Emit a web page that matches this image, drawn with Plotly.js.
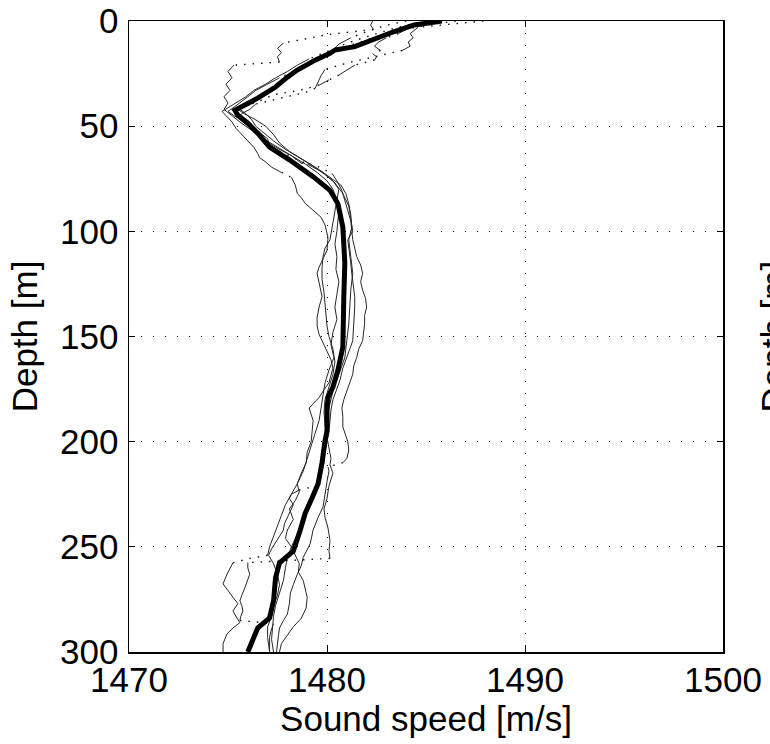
<!DOCTYPE html>
<html><head><meta charset="utf-8">
<script src="https://cdn.plot.ly/plotly-3.0.1.min.js"></script>
<style>html,body{margin:0;padding:0;background:#fff}</style>
</head><body>
<div id="chart" style="width:770px;height:744px"></div>
<script>
// ---- Data ----
const meanDepth = [0,0.8,1.9,5,9,12.2,13.8,15.4,18.6,23.3,26.7,31.4,36.7,40,42.4,44.8,48.6,53.3,60,66,74,80.5,86.8,98,109,115,131,147,155,166,174,179,185,195,199.5,210,220,226.7,234,242,252,257.6,264.8,275.7,283.8,288.6,296.2,300];
const meanSpeed = [1485.8,1485.0,1484.4,1483.4,1482.3,1481.4,1480.4,1480.15,1479.4,1478.5,1478.0,1477.4,1476.5,1475.85,1475.35,1475.5,1476.0,1476.5,1477.1,1478.1,1479.3,1480.15,1480.55,1480.8,1480.9,1480.9,1480.85,1480.85,1480.8,1480.55,1480.3,1480.05,1480.0,1480.0,1479.9,1479.75,1479.55,1479.25,1478.9,1478.65,1478.3,1477.6,1477.4,1477.3,1477.1,1476.5,1476.2,1476.0];

const cast1Depth = [0,2,4,6.5,10.5,13,15,17,19.5,21,24,27,30,33,36,39,42,45,48,52,56,60,64,68,72,76,80,85,90,95,100,106,112,118,124,130,136,142,148,154,160,166,172,178,184,190,196,202,208,214,220,225,230,235,240,245,250,254,255.5,257.6,260,263,267.6,271,274,277,280.5,283.8,286,288.6,291.4,296,300];
const cast1Speed = [1482.3,1482.2,1482.35,1480.0,1477.8,1477.5,1477.7,1477.5,1477.6,1475.3,1475.0,1475.2,1474.9,1475.1,1474.8,1475.0,1474.8,1475.2,1475.6,1476.2,1476.8,1477.5,1478.2,1478.9,1479.5,1480.0,1480.3,1480.5,1480.6,1480.55,1480.5,1480.4,1480.5,1480.45,1480.6,1480.5,1480.4,1480.5,1480.3,1480.2,1480.35,1480.1,1479.9,1479.8,1479.7,1479.6,1479.4,1479.2,1479.0,1478.8,1478.5,1478.2,1477.9,1477.7,1477.5,1477.3,1477.1,1477.0,1476.1,1475.25,1475.1,1474.95,1474.75,1475.0,1475.25,1475.5,1475.25,1475.45,1475.6,1475.25,1474.95,1474.75,1474.75];

const cast2Depth = [0,1.5,3,6,8,10,12,14,17,20,23,26,29,32,34,37,39.5,42,44,46,49,52,56,60,64,67.6,68.6,72.4,76,80.5,85,90,95,99.5,104,112,116,120,124,128,132,136,140,144,148,152,156,160,164,168,172,176,180,184,188,193,197,200,204,208,210,212,214,219,225,231,236,242,248.6,255,259,263,268,272,277,282,285,288.6,292,296,300];
const cast2Speed = [1487.9,1486.2,1484.6,1484.2,1484.35,1484.1,1484.2,1483.8,1482.4,1481.0,1479.9,1479.7,1479.55,1479.4,1478.9,1477.5,1476.4,1476.1,1475.7,1475.5,1475.9,1476.3,1476.7,1477.4,1478.2,1478.7,1479.4,1480.25,1480.5,1480.75,1480.9,1481.05,1481.2,1481.25,1481.3,1481.5,1481.7,1481.8,1481.7,1481.8,1481.95,1482.0,1481.9,1481.9,1481.85,1481.8,1481.6,1481.5,1481.35,1481.3,1481.15,1481.0,1480.85,1480.75,1480.8,1480.8,1480.95,1481.05,1481.1,1481.0,1480.8,1480.05,1480.1,1480.0,1479.9,1479.8,1479.55,1479.3,1479.15,1478.8,1478.7,1478.5,1478.3,1478.15,1478.1,1478.0,1477.8,1477.6,1477.55,1477.5,1477.45];

const cast3Depth = [0,2,4,6,8,10,12,14,15.5,17,18.5,21,25.7,28,30.5,33,35,38,40,42,44,47,50,53,57,61,65,69,73,77,82,88,94,100,104,110,115,120,126,131,136,142,148,152,156,160,165,171,175,180,185,190,195,200,205,210,215,220,226,232,238,244,250,255,260,266,272,278,283,288,294,300];
const cast3Speed = [1486.5,1485.0,1484.0,1483.6,1483.0,1482.6,1482.4,1482.7,1482.3,1482.5,1482.4,1481.4,1480.6,1480.1,1479.6,1478.6,1477.3,1476.6,1476.0,1475.6,1475.9,1476.2,1476.4,1476.8,1477.3,1477.9,1478.6,1479.3,1479.9,1480.4,1480.8,1481.1,1481.2,1481.3,1481.05,1481.15,1481.2,1481.25,1481.35,1481.4,1481.4,1481.35,1481.3,1481.3,1481.15,1481.0,1480.8,1480.65,1480.5,1480.3,1480.2,1480.15,1480.1,1480.0,1479.9,1479.85,1479.7,1479.5,1479.2,1478.9,1478.75,1478.5,1478.2,1478.0,1477.9,1477.8,1477.6,1477.4,1477.3,1477.25,1477.2,1477.3];

const cast4Depth = [0,3,6,9,12,15,18,21,24,27,30,33,36,39,41,43,45,47,50,53,56,59,62,65,68,72,76,80,85,90,95,100,104,108,112,117,123,129,136,141,145,150,156,162,168,174,180,186,192,198,204,208,211,215,221,227,232,236,241,247,252,255.5,256.5,257.5,260,263,266,269.5,273,275.7,278,280.5,283,285,285.8,286.5,289,293,297,300];
const cast4Speed = [1485.5,1484.2,1483.0,1482.0,1481.0,1480.2,1479.4,1478.8,1478.3,1477.6,1477.0,1476.4,1476.0,1475.6,1475.3,1475.0,1475.3,1475.7,1476.1,1476.6,1477.0,1477.1,1477.6,1478.3,1479.0,1479.8,1480.3,1480.6,1480.5,1480.4,1480.3,1480.2,1480.15,1479.9,1479.8,1479.75,1479.75,1479.85,1479.9,1479.95,1480.0,1480.1,1480.3,1480.4,1480.3,1480.1,1479.9,1479.85,1479.9,1480.0,1480.1,1480.2,1480.15,1480.3,1480.1,1480.0,1479.85,1479.9,1480.05,1480.15,1480.1,1480.15,1478.0,1476.0,1476.0,1476.1,1476.0,1475.85,1475.7,1475.6,1475.7,1475.75,1475.65,1475.6,1476.5,1477.3,1477.2,1477.1,1477.1,1477.1];

const cast5Depth = [0,2,5,8,11,14,17,20,23,26,29,32,35,38,40,42,44,47,50,54,58,62,66,70,74,78,82,87,92,98,104,112,120,128,136,144,152,160,168,176,184,190,196,202,208,214,219,221,223,225,227,230,233,236,239,242,245,248,251,254,258,263,268,273,278,283,288,293,297,300];
const cast5Speed = [1484.0,1483.0,1482.0,1481.2,1480.6,1480.3,1479.7,1479.2,1478.7,1478.2,1477.8,1477.3,1476.8,1476.2,1475.8,1475.5,1475.8,1476.4,1476.9,1477.3,1477.6,1478.1,1478.8,1479.5,1480.1,1480.7,1480.95,1481.1,1481.2,1481.25,1481.1,1481.2,1481.3,1481.2,1481.15,1481.1,1481.0,1480.9,1480.6,1480.3,1480.1,1480.0,1479.9,1479.85,1479.7,1479.65,1479.55,1479.5,1478.6,1478.2,1478.1,1478.3,1478.15,1478.0,1477.85,1477.8,1477.6,1477.4,1477.2,1477.05,1477.3,1477.5,1477.6,1477.5,1477.3,1477.2,1477.0,1477.0,1477.05,1477.1];

const cast6Depth = [0,2,4,6,9,12,15,18,21,24,27,30,33,36,39,41,43,45,48,51,54,57,60,63,65,67,69.5,72,74.3,78,82,84,86.7,90,93.3,97,102.9,109,113,117,120,125,131,136,141,145,149,153,157,161,165,169,172,176,179,182,184,187,190,195,200,205,210,215,220,224,228,232,237,242,246,250,254,258,262,266,270,274,279,284,288,292,296,300];
const cast6Speed = [1485.0,1484.0,1483.2,1482.5,1481.5,1480.6,1479.9,1479.1,1478.5,1478.0,1477.4,1476.9,1476.3,1475.9,1475.4,1475.0,1474.7,1474.9,1475.2,1475.4,1475.7,1476.0,1476.3,1476.5,1476.6,1476.9,1477.2,1477.7,1478.2,1478.4,1478.5,1478.7,1478.9,1479.3,1479.7,1479.9,1480.05,1480.0,1479.8,1479.6,1479.5,1479.6,1479.75,1479.6,1479.5,1479.5,1479.6,1479.8,1480.0,1480.2,1480.3,1480.2,1480.1,1479.8,1479.6,1479.3,1479.1,1479.2,1479.3,1479.25,1479.2,1479.0,1478.95,1478.7,1478.5,1478.6,1478.4,1478.1,1478.3,1478.0,1477.9,1478.2,1478.4,1478.6,1478.55,1478.8,1478.9,1479.0,1478.95,1478.7,1478.3,1478.0,1477.7,1477.6];

const xTicks = [1470,1480,1490,1500];
const yTicks = [0,50,100,150,200,250,300];
const xTitle = 'Sound speed [m/s]';
const yTitle = 'Depth [m]';

// ---- Layout geometry ----
const W = 770, H = 744, ML = 129, MR = 47, MT = 21, MB = 92;
const pxPerC = (W - ML - MR) / (xTicks[3] - xTicks[0]);
const pxPerD = (H - MT - MB) / (yTicks[6] - yTicks[0]);

// Split each cast into steep (solid-looking) and shallow (dotted-looking) segments
function splitCast(depth, speed) {
  const sx = [], sy = [], dx = [], dy = [];
  let lastS = -2, lastD = -2;
  for (let i = 0; i < depth.length - 1; i++) {
    const w = Math.abs(speed[i + 1] - speed[i]) * pxPerC;
    const h = Math.abs(depth[i + 1] - depth[i]) * pxPerD;
    const dotted = w > 5 && w > 2 * h;
    if (dotted) {
      if (lastD !== i) { if (dx.length) { dx.push(null); dy.push(null); } dx.push(speed[i]); dy.push(depth[i]); }
      dx.push(speed[i + 1]); dy.push(depth[i + 1]); lastD = i + 1;
    } else {
      if (lastS !== i) { if (sx.length) { sx.push(null); sy.push(null); } sx.push(speed[i]); sy.push(depth[i]); }
      sx.push(speed[i + 1]); sy.push(depth[i + 1]); lastS = i + 1;
    }
  }
  return { sx, sy, dx, dy };
}

const casts = [
  [cast1Depth, cast1Speed], [cast2Depth, cast2Speed], [cast3Depth, cast3Speed],
  [cast4Depth, cast4Speed], [cast5Depth, cast5Speed], [cast6Depth, cast6Speed]
];

const traces = [];
casts.forEach(([d, s]) => {
  const p = splitCast(d, s);
  traces.push({ x: p.sx, y: p.sy, type: 'scatter', mode: 'lines', connectgaps: false,
    line: { color: '#262626', width: 1 }, hoverinfo: 'skip', showlegend: false });
  traces.push({ x: p.dx, y: p.dy, type: 'scatter', mode: 'lines', connectgaps: false,
    line: { color: '#111', width: 1.4, dash: '1.5px,7px' }, hoverinfo: 'skip', showlegend: false });
});
traces.push({ x: meanSpeed, y: meanDepth, type: 'scatter', mode: 'lines',
  line: { color: '#000', width: 5 }, showlegend: false });

const font = { family: 'Liberation Sans, Arial, Helvetica, sans-serif', size: 35, color: '#000' };
const axisCommon = {
  ticks: 'inside', ticklen: 6, tickwidth: 1, tickcolor: '#000',
  showline: true, linecolor: '#000', linewidth: 1.5, mirror: 'ticks',
  showgrid: true, gridcolor: '#000', gridwidth: 1, griddash: '1px,11px',
  zeroline: false, tickfont: font, automargin: false
};

const layout = {
  width: W, height: H,
  margin: { l: ML, r: MR, t: MT, b: MB, pad: 0 },
  paper_bgcolor: '#fff', plot_bgcolor: '#fff',
  showlegend: false,
  xaxis: Object.assign({}, axisCommon, {
    range: [xTicks[0], xTicks[3]], tickvals: xTicks, ticktext: xTicks.map(String),
    ticklabelstandoff: -4,
    title: { text: xTitle, font: font, standoff: 0 }
  }),
  yaxis: Object.assign({}, axisCommon, {
    range: [yTicks[6], yTicks[0]], tickvals: yTicks, ticktext: yTicks.map(String),
    ticklabelstandoff: 2,
    title: { text: yTitle, font: font, standoff: 12 }
  }),
  annotations: [{
    text: yTitle, xref: 'paper', yref: 'paper', x: (773 - ML) / (W - ML - MR), y: 0.5,
    xanchor: 'center', yanchor: 'middle', textangle: -90, showarrow: false, font: font
  }]
};

Plotly.newPlot('chart', traces, layout, { displayModeBar: false, staticPlot: true });
</script>
</body></html>
